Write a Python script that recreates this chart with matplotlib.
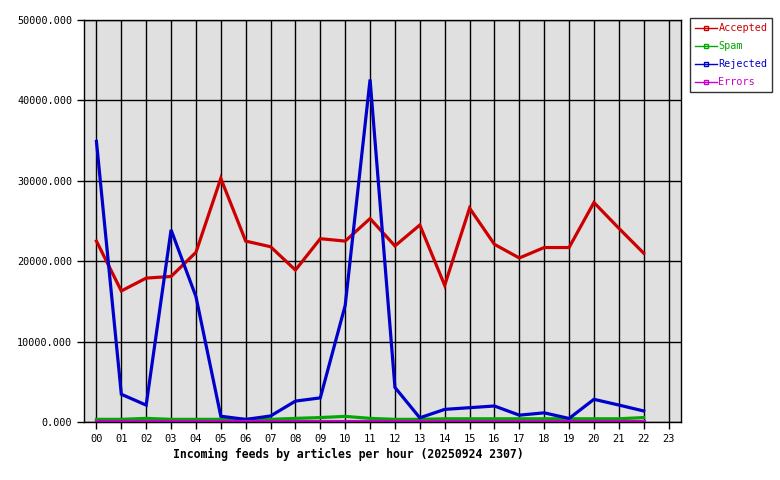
import numpy as np
import matplotlib
matplotlib.use("Agg")
import matplotlib.pyplot as plt

plt.rcParams['font.family'] = ['DejaVu Sans Mono']

hours = [f"{h:02d}" for h in range(24)]

# values per hour (00..22)
accepted = [22500, 16300, 17900, 18100, 21100, 30300, 22500, 21800, 18900, 22800,
            22500, 25300, 21900, 24500, 17000, 26600, 22100, 20400, 21700, 21700,
            27300, 24100, 21000]
spam = [330, 330, 450, 330, 330, 330, 330, 330, 450, 550,
        700, 450, 330, 330, 400, 400, 400, 400, 400, 400,
        400, 400, 550]
rejected = [34900, 3450, 2100, 23900, 15600, 720, 320, 750, 2600, 3000,
            14500, 42600, 4300, 520, 1570, 1780, 1990, 850, 1140, 440,
            2820, 2110, 1370]
errors = [100] * 23

series = [("Accepted", accepted, "#cc0000"),
          ("Spam", spam, "#00aa00"),
          ("Rejected", rejected, "#0000cc"),
          ("Errors", errors, "#cc00cc")]

fig = plt.figure(figsize=(7.8, 4.8), dpi=100)
ax = fig.add_axes([84/780, 58/480, 597/780, 402/480])
ax.set_facecolor("#e0e0e0")

x = np.arange(len(accepted))
handles = []
for name, vals, col in series:
    ax.plot(x, vals, color=col, lw=2.3, solid_joinstyle="miter", clip_on=False)
    h, = ax.plot([], [], color=col, lw=1, marker="s", markersize=2.5,
                 markerfacecolor="none", markeredgecolor=col)
    handles.append(h)

ax.set_xlim(-0.5, 23.5)
ax.set_ylim(0, 50000)
ax.set_xticks(range(24))
ax.set_xticklabels(hours, fontsize=7.5)
yt = np.arange(0, 50001, 10000)
ax.set_yticks(yt)
ax.set_yticklabels([f"{v:.3f}" for v in yt], fontsize=7.3)
ax.grid(True, color="black", lw=1)
ax.set_axisbelow(True)
ax.tick_params(direction="out", length=5, width=1, color="black")
for s in ax.spines.values():
    s.set_color("black")
    s.set_linewidth(1)
ax.set_xlabel("Incoming feeds by articles per hour (20250924 2307)",
              fontsize=8.3, fontweight="bold", labelpad=4)
ax.xaxis.set_label_coords(0.442, -0.065)

leg = fig.legend(handles, [s[0] for s in series], loc="upper left",
                 bbox_to_anchor=(690/780, 1 - 18/480), fontsize=7.3,
                 frameon=True, fancybox=False, edgecolor="black",
                 handlelength=2.2, handletextpad=0.1, labelspacing=0.8,
                 borderpad=0.5, borderaxespad=0)
leg.get_frame().set_linewidth(1)
for t, (_, _, col) in zip(leg.get_texts(), series):
    t.set_color(col)

fig.savefig("out.png", dpi=100)
